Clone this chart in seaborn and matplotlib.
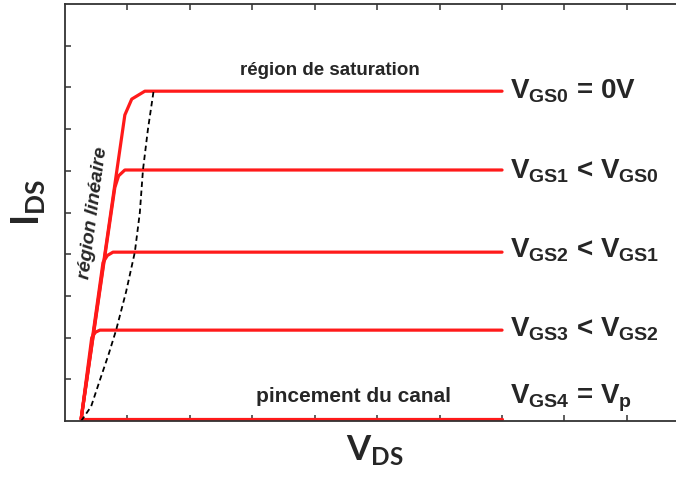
import matplotlib
matplotlib.use("Agg")
import matplotlib.pyplot as plt
import seaborn as sns
import pandas as pd

sns.set_style("ticks")
plt.rcParams['font.family'] = ['Liberation Sans', 'DejaVu Sans']
plt.rcParams['mathtext.default'] = 'regular'

# courbes I_DS(V_DS) (unites = graduations)
vgs0_x = [0.26, 0.96, 1.07, 1.28, 7.0]
vgs0_y = [0.05, 7.34, 7.72, 7.91, 7.91]
vgs1_x = [0.26, 0.80, 0.86, 0.96, 7.0]
vgs1_y = [0.05, 5.60, 5.88, 6.02, 6.02]
vgs2_x = [0.26, 0.61, 0.68, 0.77, 7.0]
vgs2_y = [0.05, 3.80, 3.97, 4.05, 4.05]
vgs3_x = [0.26, 0.43, 0.49, 0.56, 7.0]
vgs3_y = [0.05, 2.00, 2.13, 2.18, 2.18]
vgs4_x = [0.26, 7.0]
vgs4_y = [0.04, 0.04]

# limite de pincement (pointilles)
pinch_x = [0.26, 0.42, 0.56, 0.70, 0.82, 0.98, 1.12, 1.20, 1.25, 1.33, 1.42]
pinch_y = [0.0, 0.35, 0.98, 1.60, 2.18, 3.10, 4.05, 5.00, 6.02, 7.00, 7.91]

labels = [r"V$_{GS0}$ = 0V", r"V$_{GS1}$ < V$_{GS0}$", r"V$_{GS2}$ < V$_{GS1}$",
          r"V$_{GS3}$ < V$_{GS2}$", r"V$_{GS4}$ = V$_p$"]
label_y = [7.9, 6.0, 4.1, 2.2, 0.55]

curves = [(vgs0_x, vgs0_y), (vgs1_x, vgs1_y), (vgs2_x, vgs2_y),
          (vgs3_x, vgs3_y), (vgs4_x, vgs4_y)]

fig = plt.figure(figsize=(6.76, 4.79), dpi=100)
ax = fig.add_axes([0.096, 0.121, 0.97, 0.8706])

for cx, cy in curves:
    df = pd.DataFrame({"vds": cx, "ids": cy})
    sns.lineplot(data=df, x="vds", y="ids", color="#ff1a1a", linewidth=2.3,
                 sort=False, estimator=None, ax=ax, clip_on=False)

sns.lineplot(x=pinch_x, y=pinch_y, color="black", linewidth=1.3, linestyle=(0, (3, 2)),
             sort=False, estimator=None, ax=ax)

for lab, ly in zip(labels, label_y):
    ax.text(7.12, ly, lab, fontsize=20, fontweight="bold", va="center", ha="left")

ax.text(4.25, 8.4, "région de saturation", fontsize=13.5, fontweight="bold", ha="center", va="center")
ax.text(4.62, 0.58, "pincement du canal", fontsize=15, fontweight="bold", ha="center", va="center")
ax.text(0.46, 5.0, "région linéaire", fontsize=14, fontweight="bold", style="italic",
        rotation=82.5, ha="center", va="center")

ax.set_xlim(0, 10.5)
ax.set_ylim(0, 10)
ax.set_xticks(range(1, 11))
ax.set_yticks(range(1, 10))
ax.set_xticklabels([])
ax.set_yticklabels([])
ax.tick_params(direction="in", length=4, width=1.1, top=True, right=False, colors="#333333")
for s in ax.spines.values():
    s.set_linewidth(1.3)
    s.set_color("#333333")

ax.set_xlabel(r"V$_{DS}$", fontsize=25, fontweight="bold", family="Lato")
ax.set_ylabel(r"I$_{DS}$", fontsize=27, fontweight="bold", family="Lato")
ax.xaxis.set_label_coords(0.473, -0.03)
ax.yaxis.set_label_coords(-0.028, 0.525)

fig.savefig("out.png", dpi=100)
